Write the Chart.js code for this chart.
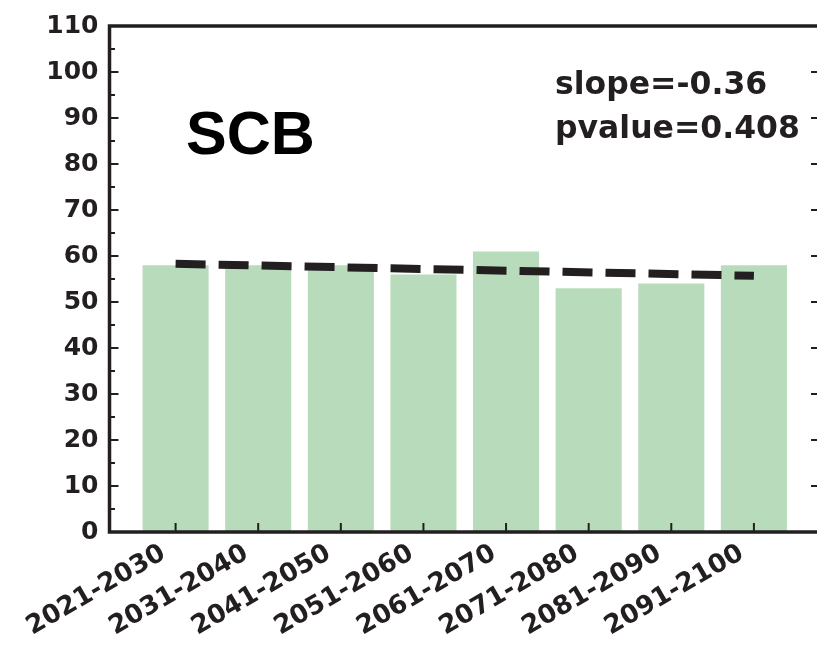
<!DOCTYPE html>
<html>
<head>
<meta charset="utf-8">
<script src="https://cdn.jsdelivr.net/npm/chart.js@4.4.1/dist/chart.umd.min.js"></script>
<style>
  html, body { margin: 0; padding: 0; overflow: hidden; background: #fff; }
  #wrap { width: 830px; height: 650px; }
</style>
</head>
<body>
<div id="wrap"><canvas id="scbChart" width="830" height="650"></canvas></div>
<script>
// decades on the x axis
const periods = ['2021-2030', '2031-2040', '2041-2050', '2051-2060', '2061-2070', '2071-2080', '2081-2090', '2091-2100'];
// bar heights
const barValues = [58, 58, 58, 56, 61, 53, 54, 58];
// dashed trend line, first and last decade
const trendIndex = [0, 7];
const trendValues = [58.3, 55.7];
const yTicks = [0, 10, 20, 30, 40, 50, 60, 70, 80, 90, 100, 110];
const yMinorTicks = [5, 15, 25, 35, 45, 55, 65, 75, 85, 95, 105];

const regionName = 'SCB';
const statLines = ['slope=-0.36', 'pvalue=0.408'];

const INK = '#231f20';
const BAR_GREEN = '#b8dcbb';
const TICK_FONT = { family: 'DejaVu Sans', size: 25, weight: 'bold' };

// spines and inward tick marks, like the matplotlib frame
const framePlugin = {
  id: 'frame',
  afterDatasetsDraw(chart) {
    const { ctx, chartArea: a, scales } = chart;
    const y = scales.y, x = scales.x;
    ctx.save();
    ctx.strokeStyle = INK;
    ctx.lineWidth = 2;
    ctx.beginPath();
    yTicks.forEach(v => {
      const py = y.getPixelForValue(v);
      ctx.moveTo(a.left, py); ctx.lineTo(a.left + 9, py);
      ctx.moveTo(a.right, py); ctx.lineTo(a.right - 9, py);
    });
    yMinorTicks.forEach(v => {
      const py = y.getPixelForValue(v);
      ctx.moveTo(a.left, py); ctx.lineTo(a.left + 5.5, py);
    });
    periods.forEach((p, i) => {
      const px = x.getPixelForValue(i);
      ctx.moveTo(px, a.bottom); ctx.lineTo(px, a.bottom - 9);
    });
    ctx.stroke();
    ctx.lineWidth = 3.5;
    ctx.strokeRect(a.left, a.top, a.right - a.left, a.bottom - a.top);
    ctx.restore();
  }
};

const labelPlugin = {
  id: 'labels',
  afterDraw(chart) {
    const { ctx } = chart;
    ctx.save();
    ctx.textAlign = 'left';
    ctx.textBaseline = 'alphabetic';
    ctx.font = 'bold 61px "Liberation Sans", Arial, sans-serif';
    ctx.fillStyle = '#000';
    ctx.fillText(regionName, 186, 154);
    ctx.fillStyle = INK;
    ctx.font = 'bold 31.5px "DejaVu Sans"';
    ctx.fillText(statLines[0], 555, 93.5);
    ctx.fillText(statLines[1], 555, 137.5);
    ctx.restore();
  }
};

new Chart(document.getElementById('scbChart'), {
  type: 'bar',
  data: {
    datasets: [
      {
        type: 'line',
        data: trendIndex.map((xi, i) => ({ x: xi, y: trendValues[i] })),
        borderColor: INK,
        borderWidth: 8,
        borderDash: [30, 13],
        borderCapStyle: 'butt',
        pointRadius: 0,
        fill: false,
        order: 0
      },
      {
        data: barValues.map((v, i) => ({ x: i, y: v })),
        backgroundColor: BAR_GREEN,
        borderWidth: 0,
        barPercentage: 0.8,
        categoryPercentage: 1.0,
        order: 1
      }
    ]
  },
  options: {
    responsive: false,
    devicePixelRatio: 1,
    animation: false,
    layout: { padding: { top: 24, right: 10, left: 0, bottom: 0 } },
    plugins: { legend: { display: false }, tooltip: { enabled: false } },
    scales: {
      x: {
        type: 'linear',
        min: -0.8,
        max: 7.8,
        offset: false,
        grid: { display: false, drawTicks: false, offset: false },
        border: { display: false },
        afterBuildTicks: s => { s.ticks = periods.map((p, i) => ({ value: i })); },
        afterFit: s => { s.height = 118; },
        ticks: {
          autoSkip: false,
          minRotation: 30,
          maxRotation: 30,
          padding: 6,
          labelOffset: -12,
          color: INK,
          font: { family: 'DejaVu Sans', size: 26, weight: 'bold' },
          callback: v => periods[v]
        }
      },
      y: {
        min: 0,
        max: 110,
        grid: { display: false, drawTicks: false },
        border: { display: false },
        afterBuildTicks: s => { s.ticks = yTicks.map(v => ({ value: v })); },
        afterFit: s => { s.width = 109.5; },
        ticks: { padding: 11, color: INK, font: TICK_FONT }
      }
    }
  },
  plugins: [framePlugin, labelPlugin]
});
</script>
</body>
</html>
